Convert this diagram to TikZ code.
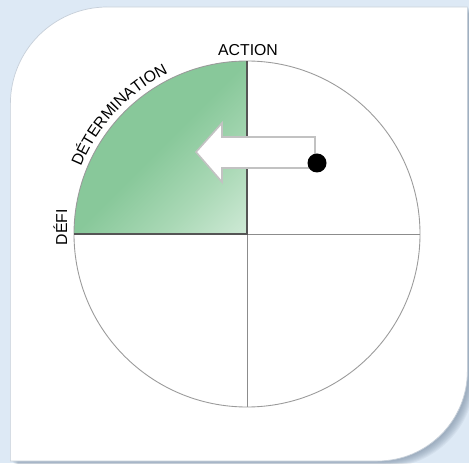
\documentclass[tikz,border=0pt]{standalone}
\usepackage{fontspec}
\setmainfont{Liberation Sans}
\usetikzlibrary{decorations.text}
\definecolor{bgblue}{HTML}{DDE9F5}
\definecolor{shadowblue}{HTML}{6F8499}
\definecolor{cardrim}{HTML}{C6CFD9}
\definecolor{darkgreen}{HTML}{88C89A}
\definecolor{midgreen}{HTML}{A9D8B5}
\definecolor{lightgreen}{HTML}{D0EAD7}
\definecolor{rimgray}{HTML}{9A9A9A}
\definecolor{axisdark}{HTML}{555555}
\definecolor{axislight}{HTML}{8C8C8C}
\definecolor{arrowgray}{HTML}{C2C2C2}
\pgfdeclarehorizontalshading{quadgreen}{100bp}{color(0bp)=(darkgreen); color(50bp)=(darkgreen); color(68bp)=(midgreen); color(86bp)=(lightgreen); color(100bp)=(lightgreen)}
\def\cardpath{(13,2) -- (13,359) arc[start angle=180, end angle=90, radius=97] -- (470,456) -- (470,92) arc[start angle=0, end angle=-90, radius=90] -- (380,2) -- cycle}

\begin{document}
\begin{tikzpicture}[x=0.02cm,y=0.02cm]
\tikzstyle{every node}+=[inner sep=0pt, font=\fontsize{9}{10}\selectfont]
\useasboundingbox (0,0) rectangle (469,463);
\fill [bgblue] (0,0) rectangle (469,463);
\begin{scope}
\clip (0,0) rectangle (469,463);
% card and its shadow
\foreach \s in {8,7,...,1}
  \fill [shadowblue, opacity=0.09, shift={(\s*0.8-1.5,-\s*0.8)}] \cardpath;
\fill [white, xshift=-1.5] \cardpath;
\draw [cardrim, line width=0.4pt, xshift=-1.5] \cardpath;
\end{scope}
% wheel
\coordinate (c) at (247,229);
\shade [shading=quadgreen, shading angle=-45]
  (c) -- (74,229) arc[start angle=180, end angle=90, radius=173] -- cycle;
\draw [rimgray, line width=0.5pt] (c) circle [radius=173];
\draw [axislight, line width=0.5pt] (c) -- (420,229);
\draw [axislight, line width=0.5pt] (c) -- (247,56);
\draw [axisdark, line width=0.6pt] (74,229) -- (c) -- (247,402);
% arrow
\draw [arrowgray, fill=white, line width=0.9pt, line join=miter]
  (315,326) -- (222,326) -- (222,340) -- (196,311) -- (222,281) -- (222,295) -- (315,295) -- cycle;
\fill [black] (317,300) circle [radius=9.5];
% labels
\node (action) [anchor=base] at (248,407) {ACTION};
\node (defi) [anchor=base, rotate=90] at (67,236) {DÉFI};
\path [shift={(c)}, decorate, decoration={text along path, text align=left,
  text={|\fontsize{9}{10}\selectfont|DÉTERMINATION}}]
  (158:179) arc[start angle=158, end angle=108, radius=179];
\end{tikzpicture}
\end{document}
